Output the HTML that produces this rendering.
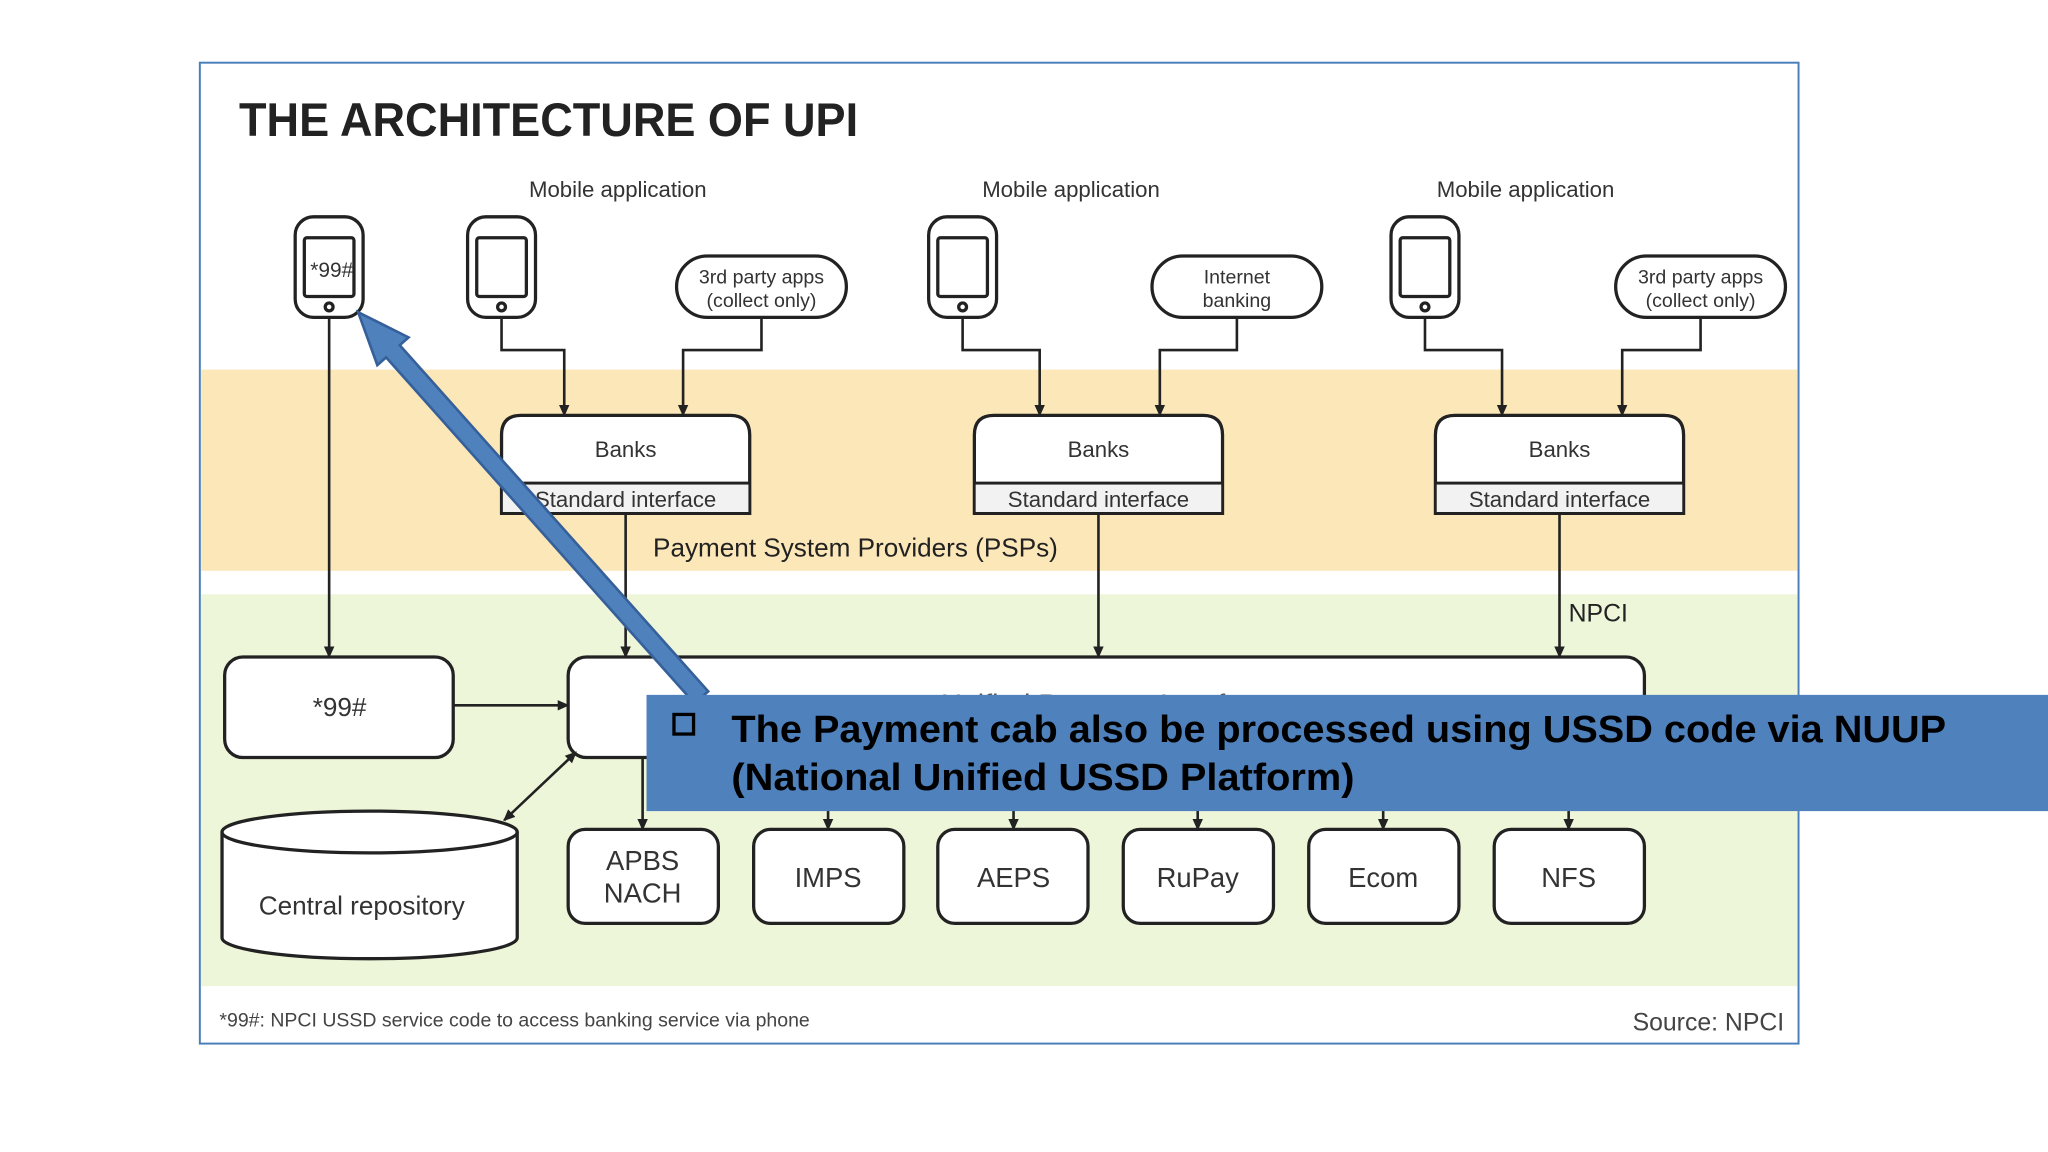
<!DOCTYPE html>
<html><head><meta charset="utf-8"><style>
html,body{margin:0;padding:0;background:#fff;}
svg{display:block;}
text{font-family:"Liberation Sans",sans-serif;}
</style></head><body>
<svg width="2048" height="1152" viewBox="0 0 1568 882" xmlns="http://www.w3.org/2000/svg">
<defs>
<marker id="ah" markerWidth="10" markerHeight="10" refX="8" refY="5" orient="auto" markerUnits="userSpaceOnUse">
<path d="M0,1 L9,5 L0,9 z" fill="#222"/></marker>
<marker id="ahs" markerWidth="10" markerHeight="10" refX="1" refY="5" orient="auto" markerUnits="userSpaceOnUse">
<path d="M9,1 L0,5 L9,9 z" fill="#222"/></marker>
</defs>
<rect width="1568" height="882" fill="#fff"/>
<!-- bands -->
<rect x="154" y="283" width="1222" height="154" fill="#fbe7b8"/>
<rect x="154" y="455" width="1222" height="300" fill="#eef6da"/>
<rect x="153" y="48" width="1224" height="751" fill="none" stroke="#4a7ebb" stroke-width="1.5"/>
<text x="183" y="104" font-size="36" font-weight="bold" fill="#222" textLength="474" lengthAdjust="spacingAndGlyphs">THE ARCHITECTURE OF UPI</text>
<g font-size="17" fill="#333" text-anchor="middle">
<text x="473" y="151">Mobile application</text>
<text x="820" y="151">Mobile application</text>
<text x="1168" y="151">Mobile application</text>
</g>
<g fill="#fff" stroke="#222" stroke-width="2.5">
<!-- phones -->
<rect x="226" y="166" width="52" height="77" rx="14"/><rect x="233" y="182" width="38" height="45" rx="2"/><circle cx="252" cy="235" r="3"/>
<rect x="358" y="166" width="52" height="77" rx="14"/><rect x="365" y="182" width="38" height="45" rx="2"/><circle cx="384" cy="235" r="3"/>
<rect x="711" y="166" width="52" height="77" rx="14"/><rect x="718" y="182" width="38" height="45" rx="2"/><circle cx="737" cy="235" r="3"/>
<rect x="1065" y="166" width="52" height="77" rx="14"/><rect x="1072" y="182" width="38" height="45" rx="2"/><circle cx="1091" cy="235" r="3"/>
<!-- pills -->
<rect x="518" y="196" width="130" height="47" rx="23.5"/>
<rect x="882" y="196" width="130" height="47" rx="23.5"/>
<rect x="1237" y="196" width="130" height="47" rx="23.5"/>
<!-- banks -->
<path d="M384,393 V333 Q384,318 399,318 H559 Q574,318 574,333 V393 Z"/><line x1="384" y1="370" x2="574" y2="370"/>
<path d="M746,393 V333 Q746,318 761,318 H921 Q936,318 936,333 V393 Z"/><line x1="746" y1="370" x2="936" y2="370"/>
<path d="M1099,393 V333 Q1099,318 1114,318 H1274 Q1289,318 1289,333 V393 Z"/><line x1="1099" y1="370" x2="1289" y2="370"/>
<!-- boxes -->
<rect x="172" y="503" width="175" height="77" rx="14"/>
<rect x="435" y="503" width="824" height="77" rx="14"/>
<rect x="435" y="635" width="115" height="72" rx="13"/>
<rect x="577" y="635" width="115" height="72" rx="13"/>
<rect x="718" y="635" width="115" height="72" rx="13"/>
<rect x="860" y="635" width="115" height="72" rx="13"/>
<rect x="1002" y="635" width="115" height="72" rx="13"/>
<rect x="1144" y="635" width="115" height="72" rx="13"/>
<!-- cylinder -->
<path d="M170,637 V718 A113,16 0 0 0 396,718 V637"/>
<ellipse cx="283" cy="637" rx="113" ry="16"/>
</g>
<rect x="385" y="371" width="188" height="21" fill="#f2f2f2"/>
<rect x="747" y="371" width="188" height="21" fill="#f2f2f2"/>
<rect x="1100" y="371" width="188" height="21" fill="#f2f2f2"/>
<g fill="#333" font-size="17" text-anchor="middle">
<text x="254" y="212" font-size="16">*99#</text>
<text x="583" y="217" font-size="15">3rd party apps</text><text x="583" y="235" font-size="15">(collect only)</text>
<text x="947" y="217" font-size="15">Internet</text><text x="947" y="235" font-size="15">banking</text>
<text x="1302" y="217" font-size="15">3rd party apps</text><text x="1302" y="235" font-size="15">(collect only)</text>
<text x="479" y="350">Banks</text><text x="479" y="388">Standard interface</text>
<text x="841" y="350">Banks</text><text x="841" y="388">Standard interface</text>
<text x="1194" y="350">Banks</text><text x="1194" y="388">Standard interface</text>
<text x="260" y="548" font-size="20">*99#</text>
<text x="847" y="547" font-size="22" fill="#555">Unified Payment Interface</text>
<text x="492" y="666" font-size="21">APBS</text><text x="492" y="691" font-size="21">NACH</text>
<text x="634" y="679" font-size="21">IMPS</text>
<text x="776" y="679" font-size="21">AEPS</text>
<text x="917" y="679" font-size="21">RuPay</text>
<text x="1059" y="679" font-size="21">Ecom</text>
<text x="1201" y="679" font-size="21">NFS</text>
<text x="277" y="700" font-size="20">Central repository</text>
</g>
<text x="500" y="426" font-size="20" fill="#222">Payment System Providers (PSPs)</text>
<text x="1201" y="476" font-size="19" fill="#222">NPCI</text>
<text x="168" y="786" font-size="15" fill="#444" textLength="452" lengthAdjust="spacingAndGlyphs">*99#: NPCI USSD service code to access banking service via phone</text>
<text x="1366" y="789" font-size="19" fill="#444" text-anchor="end">Source: NPCI</text>
<!-- connectors -->
<g fill="none" stroke="#222" stroke-width="2" marker-end="url(#ah)">
<path d="M384,243 V268 H432 V318"/><path d="M583,243 V268 H523 V318"/>
<path d="M737,243 V268 H796 V318"/><path d="M947,243 V268 H888 V318"/>
<path d="M1091,243 V268 H1150 V318"/><path d="M1302,243 V268 H1242 V318"/>
<path d="M252,243 V503"/>
<path d="M479,393 V503"/><path d="M841,393 V503"/><path d="M1194,393 V503"/>
<path d="M347,540 H435"/>
<path d="M492,580 V635"/><path d="M634,580 V635"/><path d="M776,580 V635"/><path d="M917,580 V635"/><path d="M1059,580 V635"/><path d="M1201,580 V635"/>
<path d="M441,576 L386,628" marker-start="url(#ahs)"/>
</g>
<!-- blue arrow -->
<polygon points="0,-7 355,-7 355,-16 395,0 355,16 355,7 0,7" transform="translate(537,534) rotate(228.3)" fill="#4f81bd" stroke="#35609a" stroke-width="2"/>
<!-- blue box -->
<rect x="495" y="532" width="1073" height="89" fill="#4f81bd"/>
<rect x="516" y="547" width="15" height="15" fill="none" stroke="#000" stroke-width="2.5"/>
<g font-size="29" font-weight="bold" fill="#000">
<text x="560" y="568" textLength="930" lengthAdjust="spacingAndGlyphs">The Payment cab also be processed using USSD code via NUUP</text>
<text x="560" y="605" textLength="477" lengthAdjust="spacingAndGlyphs">(National Unified USSD Platform)</text>
</g>
</svg>
</body></html>
